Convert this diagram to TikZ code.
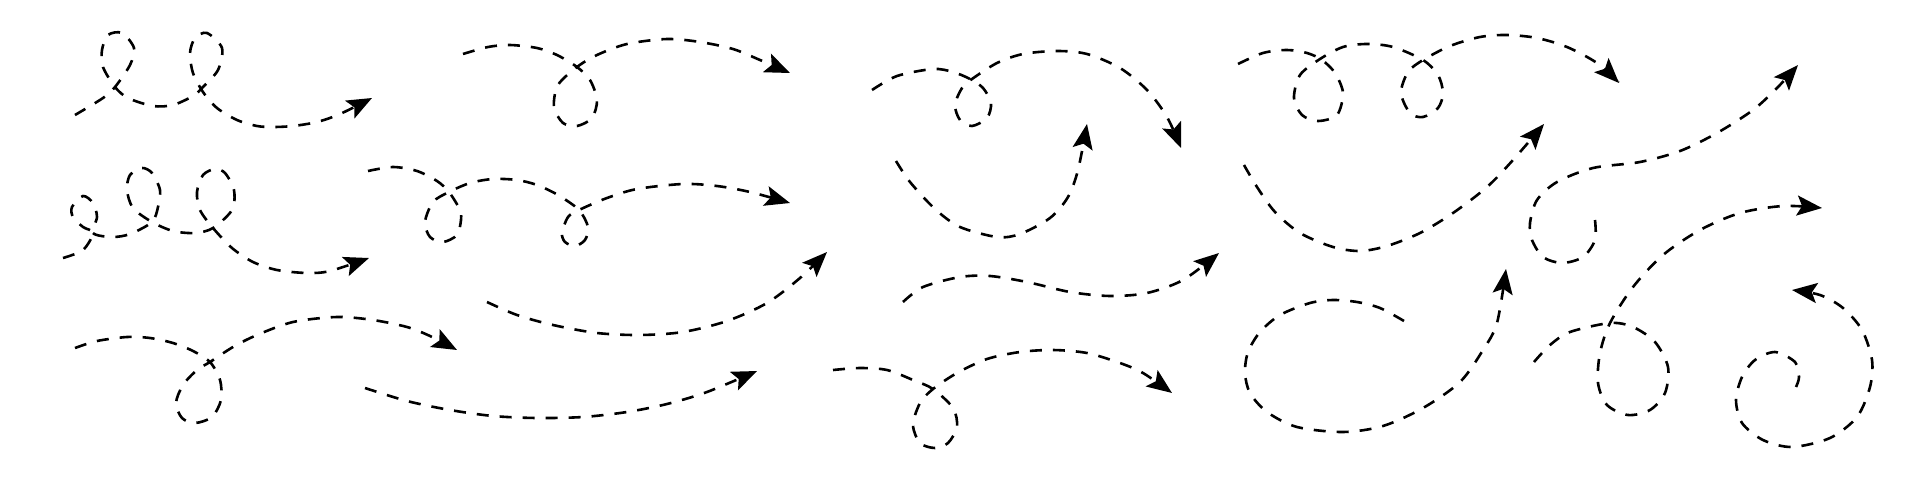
\documentclass[tikz,border=0pt]{standalone}
\usetikzlibrary{arrows.meta}

\begin{document}
\begin{tikzpicture}[
        x=1pt,
        y=-1pt,
        curve/.style={draw, black, line width=2.6pt, dash pattern=on 12pt off 11pt, -{Stealth[length=25pt, width=20pt, inset=5pt]}}
    ]
        \useasboundingbox (0,0) rectangle (1920,480);

        % First column
        \draw [curve] plot [smooth] coordinates {(75,115) (103,98) (115,87) (130,65) (134,48) (122,33) (108,35) (102,50) (103,67) (115,87) (128,98) (153,106) (173,105) (193,96) (202,88) (218,70) (222,48) (207,33) (195,38) (190,53) (193,73) (203,92) (217,108) (237,120) (257,126) (273,127) (293,126) (317,122) (340,114) (372,98)};
        \draw [curve] plot [smooth] coordinates {(63,258) (83,250) (93,233) (83,227) (73,217) (72,207) (83,196) (93,203) (97,217) (93,233) (112,237) (130,234) (152,222) (158,207) (160,190) (152,173) (142,168) (130,175) (127,190) (133,208) (152,222) (173,231) (195,233) (213,228) (232,210) (234,190) (225,173) (215,169) (203,175) (197,192) (200,210) (213,228) (232,248) (253,262) (277,270) (307,273) (330,271) (369,258)};
        \draw [curve] plot [smooth] coordinates {(75,348) (97,341) (127,337) (150,338) (173,343) (193,351) (210,362) (220,380) (221,400) (212,417) (195,423) (182,418) (176,403) (183,385) (197,370) (210,362) (233,347) (257,335) (293,322) (337,317) (373,320) (407,327) (430,336) (457,350)};

        % Second column
        \draw [curve] plot [smooth] coordinates {(463,54) (488,47) (510,45) (537,48) (557,55) (577,67) (590,80) (597,100) (592,118) (577,126) (563,123) (554,107) (558,85) (577,67) (597,55) (627,44) (667,39) (700,42) (733,49) (760,60) (790,73)};
        \draw [curve] plot [smooth] coordinates {(368,171) (393,167) (417,171) (437,181) (449,192) (460,210) (461,220) (457,235) (443,242) (430,237) (425,222) (433,202) (449,192) (470,183) (493,179) (517,180) (537,185) (558,195) (579,210) (588,227) (585,240) (575,246) (565,242) (562,233) (568,217) (579,210) (607,198) (637,189) (683,184) (717,186) (750,192) (790,203)};
        \draw [curve] plot [smooth] coordinates {(487,302) (517,315) (553,325) (597,333) (640,335) (683,332) (727,321) (767,303) (800,278) (827,252)};
        \draw [curve] plot [smooth] coordinates {(365,388) (407,401) (450,410) (493,416) (537,418) (583,417) (627,412) (667,404) (707,392) (757,371)};

        % Third column
        \draw [curve] plot [smooth] coordinates {(872,90) (897,76) (933,69) (953,72) (970,79) (983,88) (991,103) (987,118) (972,126) (960,120) (955,105) (962,88) (972,79) (997,63) (1023,54) (1057,51) (1087,54) (1120,68) (1147,90) (1167,117) (1181,148)};
        \draw [curve] plot [smooth] coordinates {(896,161) (910,182) (935,209) (960,227) (997,237) (1020,234) (1050,218) (1068,197) (1078,170) (1087,124)};
        \draw [curve] plot [smooth] coordinates {(903,302) (923,287) (960,277) (990,276) (1027,282) (1070,292) (1110,296) (1147,293) (1183,280) (1219,253)};
        \draw [curve] plot [smooth] coordinates {(833,370) (860,368) (887,370) (913,380) (933,389) (953,408) (957,427) (948,443) (935,448) (920,443) (913,425) (920,403) (933,389) (957,373) (987,359) (1020,352) (1053,350) (1087,353) (1120,363) (1143,373) (1172,393)};

        % Fourth column
        \draw [curve] plot [smooth] coordinates {(1238,64) (1263,53) (1287,50) (1307,53) (1322,60) (1335,73) (1343,93) (1337,115) (1318,121) (1302,115) (1294,98) (1300,75) (1320,59) (1343,47) (1367,44) (1393,47) (1423,60) (1438,75) (1443,93) (1438,108) (1423,117) (1410,113) (1401,93) (1408,72) (1423,60) (1450,46) (1480,37) (1507,35) (1537,38) (1567,47) (1597,63) (1619,83)};
        \draw [curve] plot [smooth] coordinates {(1244,165) (1257,187) (1275,212) (1300,233) (1333,247) (1360,251) (1387,246) (1420,233) (1453,213) (1487,187) (1513,160) (1544,124)};
        \draw [curve] plot [smooth] coordinates {(1404,321) (1380,308) (1357,302) (1333,300) (1310,303) (1280,315) (1260,332) (1248,352) (1245,373) (1250,393) (1267,412) (1297,427) (1343,432) (1383,426) (1423,408) (1460,382) (1483,350) (1497,323) (1506,269)};

        % Last column
        \draw [curve] plot [smooth] coordinates {(1595,220) (1595,240) (1583,257) (1562,263) (1543,257) (1532,240) (1530,223) (1537,200) (1557,182) (1593,168) (1640,162) (1680,151) (1717,133) (1753,110) (1777,88) (1798,65)};
        \draw [curve] plot [smooth] coordinates {(1534,362) (1550,345) (1570,332) (1610,323) (1633,327) (1655,342) (1668,367) (1665,393) (1650,410) (1628,415) (1607,405) (1598,383) (1600,353) (1610,323) (1633,287) (1663,255) (1700,230) (1740,213) (1783,206) (1822,208)};
        \draw [curve] plot [smooth] coordinates {(1796,387) (1799,377) (1795,362) (1775,352) (1755,360) (1742,377) (1736,400) (1742,423) (1763,440) (1792,447) (1830,438) (1857,417) (1870,387) (1872,360) (1862,330) (1843,308) (1820,295) (1792,290)};

    \end{tikzpicture}
\end{document}
